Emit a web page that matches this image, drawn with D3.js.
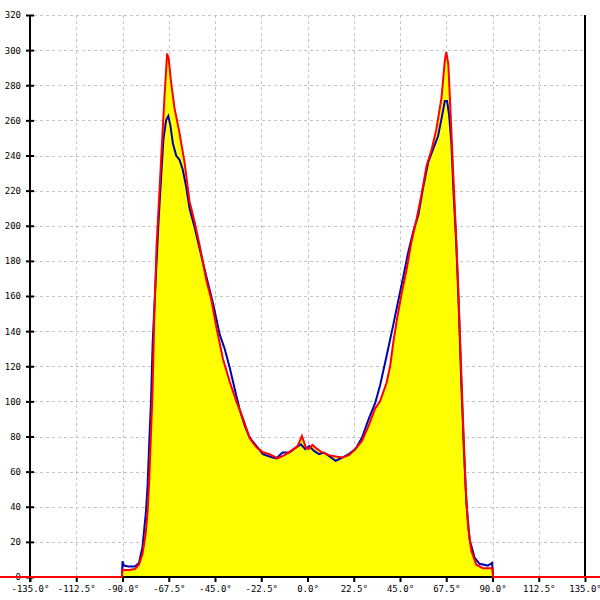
<!DOCTYPE html>
<html>
<head>
<meta charset="utf-8">
<script src="https://cdn.jsdelivr.net/npm/d3@7"></script>
<style>
html,body{margin:0;padding:0;background:#fff;}
svg{display:block;}
text{font-family:"DejaVu Sans Mono",monospace;font-size:9px;fill:#000;}
</style>
</head>
<body>
<svg id="chart" width="600" height="600"></svg>
<script>
const xTicks = [-135, -112.5, -90, -67.5, -45, -22.5, 0, 22.5, 45, 67.5, 90, 112.5, 135];
const yTicks = [0, 20, 40, 60, 80, 100, 120, 140, 160, 180, 200, 220, 240, 260, 280, 300, 320];

const redAngles = [-150, -90.3, -90, -87, -84, -82, -80.3, -78.8, -77.8, -77, -76.2, -75.4, -74.5, -73.4, -72.1, -70.8, -69.6, -68.3, -67.5, -66.4, -64.7, -62.3, -59.8, -57.4, -54.9, -52.5, -49.2, -46.8, -44.3, -41.1, -37.8, -34.6, -31.3, -28.1, -24.9, -21.7, -18.5, -14.5, -11.2, -8, -4.8, -2.7, -0.8, 0.5, 2.4, 4.8, 7.2, 10.4, 13.7, 16.9, 20.1, 23.3, 26.5, 29.7, 32.9, 35.3, 38.5, 40.2, 41.8, 43.4, 45.8, 48.2, 50.6, 53.1, 55.5, 57.9, 60.3, 62.7, 65.2, 66.8, 67.5, 68.5, 69.5, 70.8, 72.1, 73.2, 74.4, 75.6, 76.9, 78.1, 79.7, 82.1, 85.3, 89.4, 90, 90.3, 150];
const redValues = [0, 0, 4, 4, 4.5, 7, 13, 24, 37, 55, 80, 105, 150, 189, 218, 247, 273, 298, 295, 282, 267, 253, 236, 214, 202, 189, 169, 158, 142, 124, 111, 100, 90, 79, 74, 71, 70, 67.5, 69.4, 71.8, 74.6, 80.3, 73.7, 72.8, 75.2, 72.8, 70.9, 69.4, 68.6, 68, 69.4, 72.8, 77.5, 86, 96, 100, 110.7, 120, 134, 146, 161.5, 175, 191, 204, 218, 234, 243, 255, 273, 294, 299, 292, 267, 232, 199, 169, 130, 91, 52, 29, 15, 7, 5, 5, 5, 0, 0];

const blueAngles = [-90.3, -90, -89.3, -87, -84, -82, -80.3, -78.6, -77.8, -77, -76.1, -75.3, -73.7, -72.4, -71.2, -70.1, -68.8, -67.7, -66.7, -65.5, -63.9, -62.3, -60.7, -59, -57.4, -54.9, -52.5, -49.2, -46, -42.7, -40.3, -37.8, -35.4, -32.9, -30.5, -28.1, -24.9, -21.7, -18.5, -15.3, -12.1, -8.8, -5.6, -3.2, -1.1, 0.8, 3.2, 5.6, 8, 10.4, 13.7, 16.9, 20.1, 23.3, 26.5, 29.7, 32.9, 35.3, 38.5, 41.8, 44.2, 46.6, 49, 51.5, 53.9, 56.3, 58.7, 61.1, 63.5, 65.2, 66.8, 67.9, 68.9, 70, 71.1, 72.4, 73.7, 74.8, 76.1, 77.3, 78.9, 81.3, 83.7, 87.7, 89.8, 90.3];
const blueValues = [0, 9, 6.5, 6, 6, 8, 17, 37, 52, 76, 101, 134, 173, 204, 228, 249, 260, 262.5, 257, 247, 240, 237.6, 232, 222, 210, 199, 187, 171, 156, 138, 130, 119, 107, 95, 86, 79.3, 74.6, 70, 68.6, 67.5, 70.9, 70.9, 73.7, 75.6, 72.8, 74.6, 71.8, 70, 70.9, 69, 66.2, 68, 70, 72.8, 79.3, 89.7, 99, 109, 126, 144, 157.6, 171, 185, 197, 206, 222, 236, 243.6, 251, 261, 271, 271, 263, 247, 218, 189, 150, 111, 72, 42, 21, 11, 7.5, 6.5, 8, 0];

const svg = d3.select("#chart");
const x = d3.scaleLinear().domain([-135, 135]).range([30, 585]);
const y = d3.scaleLinear().domain([0, 320]).range([577, 15]);

// grid
const grid = svg.append("g").attr("stroke", "#c4c4c4").attr("stroke-dasharray", "3,3").attr("stroke-width", 1);
grid.selectAll(".vg").data(xTicks.slice(1, -1)).join("line")
  .attr("x1", d => Math.round(x(d)) + 0.5).attr("x2", d => Math.round(x(d)) + 0.5)
  .attr("y1", y(320)).attr("y2", y(0));
grid.selectAll(".hg").data(yTicks.slice(1)).join("line")
  .attr("x1", x(-135) + 4).attr("x2", x(135))
  .attr("y1", d => Math.round(y(d)) + 0.5).attr("y2", d => Math.round(y(d)) + 0.5);

const red = redAngles.map((a, i) => [a, redValues[i]]);
const blue = blueAngles.map((a, i) => [a, blueValues[i]]);

// fill under red
svg.append("path").datum(red.filter(d => d[0] >= -90.3 && d[0] <= 90.3))
  .attr("fill", "#ffff00")
  .attr("d", d3.area().x(d => x(d[0])).y0(y(0)).y1(d => y(d[1])));

// axes
const xAxis = d3.axisBottom(x).tickValues(xTicks).tickSize(5).tickPadding(4)
  .tickFormat(d => d.toFixed(1) + "°");
const gx = svg.append("g").attr("transform", `translate(0,${y(0)})`).call(xAxis);
gx.select(".domain").attr("stroke", "#000").attr("stroke-width", 2).attr("d", `M${x(-135)},0H${x(135)}`);
gx.selectAll(".tick line").attr("stroke-width", 2).attr("stroke", "#000");
gx.selectAll(".tick text").style("font-family", '"DejaVu Sans Mono",monospace').style("font-size", "9px");

const yAxis = d3.axisLeft(y).tickValues(yTicks).tickSize(4).tickPadding(5).tickFormat(d3.format("d"));
const gy = svg.append("g").attr("transform", `translate(${x(-135)},0)`).call(yAxis);
gy.select(".domain").attr("d", `M0,${y(320)}V${y(0) + 5}`).attr("stroke", "#000").attr("stroke-width", 2);
gy.selectAll(".tick line").attr("x2", 4).attr("x1", -4).attr("stroke-width", 2).attr("stroke", "#000");
gy.selectAll(".tick text").style("font-family", '"DejaVu Sans Mono",monospace').style("font-size", "9px");

// right border
svg.append("line").attr("x1", x(135)).attr("x2", x(135)).attr("y1", y(320)).attr("y2", y(0))
  .attr("stroke", "#000").attr("stroke-width", 2);

const line = d3.line().x(d => x(d[0])).y(d => y(d[1]));
svg.append("path").datum(blue).attr("fill", "none").attr("stroke", "#0000b4").attr("stroke-width", 2).attr("d", line);
svg.append("path").datum(red).attr("fill", "none").attr("stroke", "#ff0000").attr("stroke-width", 2).attr("d", line);
</script>
</body>
</html>
